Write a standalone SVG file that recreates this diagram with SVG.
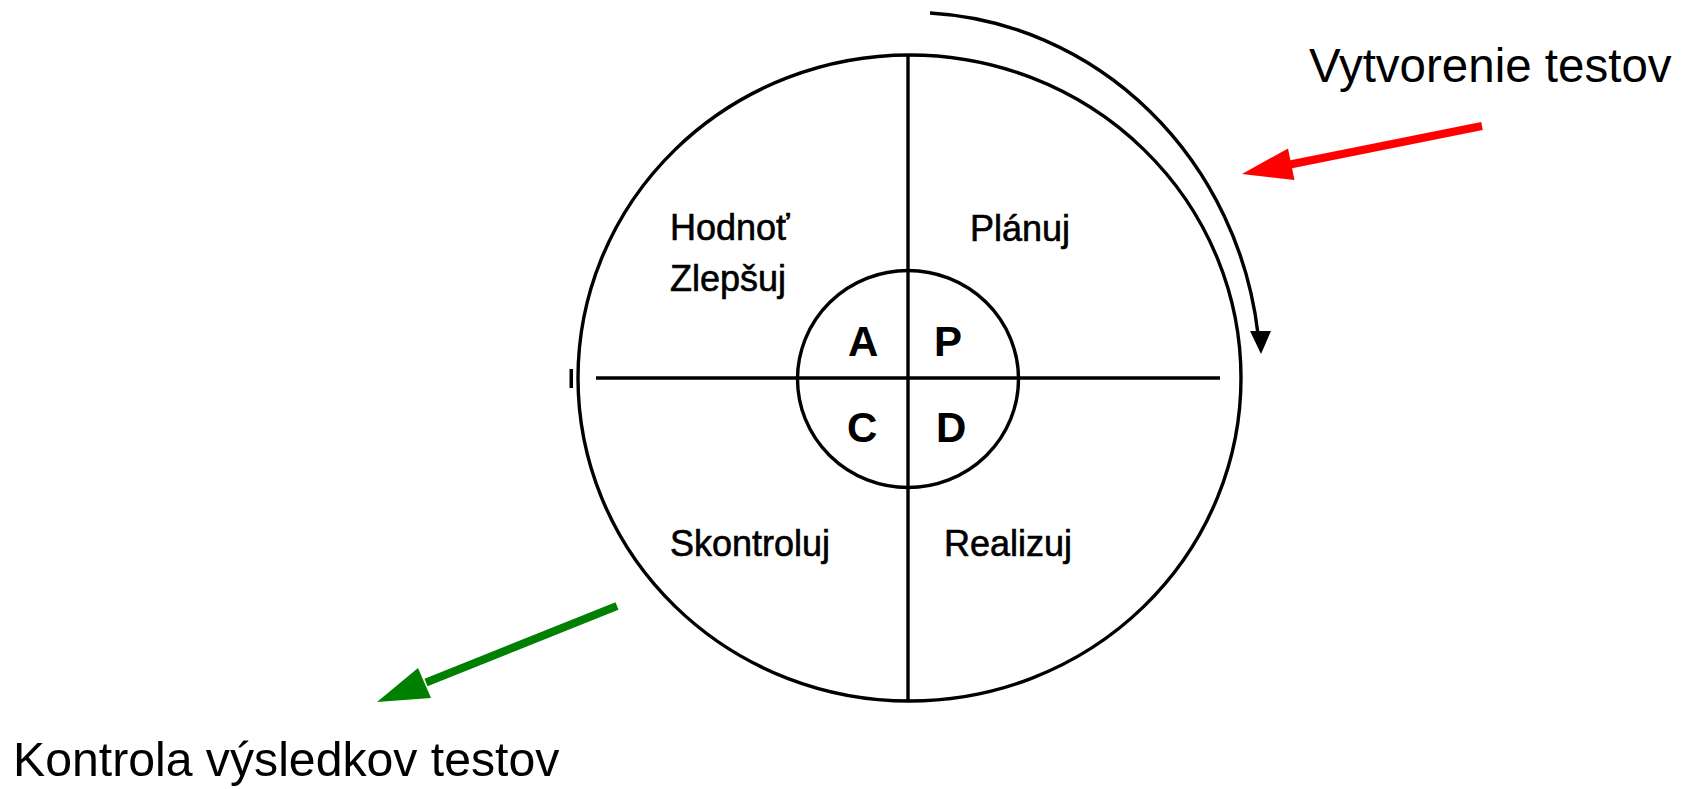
<svg xmlns="http://www.w3.org/2000/svg" width="1686" height="789" viewBox="0 0 1686 789">
<style>
.s{fill:none;stroke:#000;stroke-width:3.4}
.lbl{font-family:"Liberation Sans",Arial,sans-serif;font-size:36px;fill:#000;stroke:#000;stroke-width:0.6}
.big{font-family:"Liberation Sans",Arial,sans-serif;font-size:47.5px;fill:#000}
.let{font-family:"Liberation Sans",Arial,sans-serif;font-size:42px;font-weight:bold;fill:#000}
</style>
<rect width="1686" height="789" fill="#fff"/>
<g id="outer-circle">
<ellipse class="s" cx="909.5" cy="378" rx="331.5" ry="323"/>
<rect x="569.5" y="369" width="3.5" height="19" fill="#000"/>
</g>
<g id="axes">
<line class="s" x1="596" y1="378" x2="1220" y2="378"/>
<line class="s" x1="908" y1="56" x2="908" y2="701"/>
</g>
<g id="inner-circle">
<ellipse class="s" cx="908" cy="379" rx="110.5" ry="108.5"/>
<text class="let" x="848" y="356">A</text>
<text class="let" x="934" y="356">P</text>
<text class="let" x="847" y="442">C</text>
<text class="let" x="936" y="442">D</text>
</g>
<g id="quadrant-act"><text class="lbl" x="670" y="240">Hodnoť</text><text class="lbl" x="670" y="291">Zlepšuj</text></g>
<g id="quadrant-plan"><text class="lbl" x="970" y="241">Plánuj</text></g>
<g id="quadrant-check"><text class="lbl" x="670" y="556">Skontroluj</text></g>
<g id="quadrant-do"><text class="lbl" x="944" y="556">Realizuj</text></g>
<g id="label-create"><text class="big" x="1309" y="82">Vytvorenie testov</text></g>
<g id="label-control"><text class="big" x="13" y="776" style="font-size:48.2px">Kontrola výsledkov testov</text></g>
<g id="connectors">
<path class="s" d="M930 13 A350 366 0 0 1 1258 334"/>
<polygon points="1250,331 1271,331 1261,354" fill="#000"/>
<line x1="1482" y1="126" x2="1290" y2="164.5" stroke="#ff0000" stroke-width="8"/>
<polygon points="1242,174 1288,148.5 1294.5,180" fill="#ff0000"/>
<line x1="617" y1="606" x2="426" y2="682.5" stroke="#008000" stroke-width="8"/>
<polygon points="377,702 418,668 431,698" fill="#008000"/>
</g>
</svg>
